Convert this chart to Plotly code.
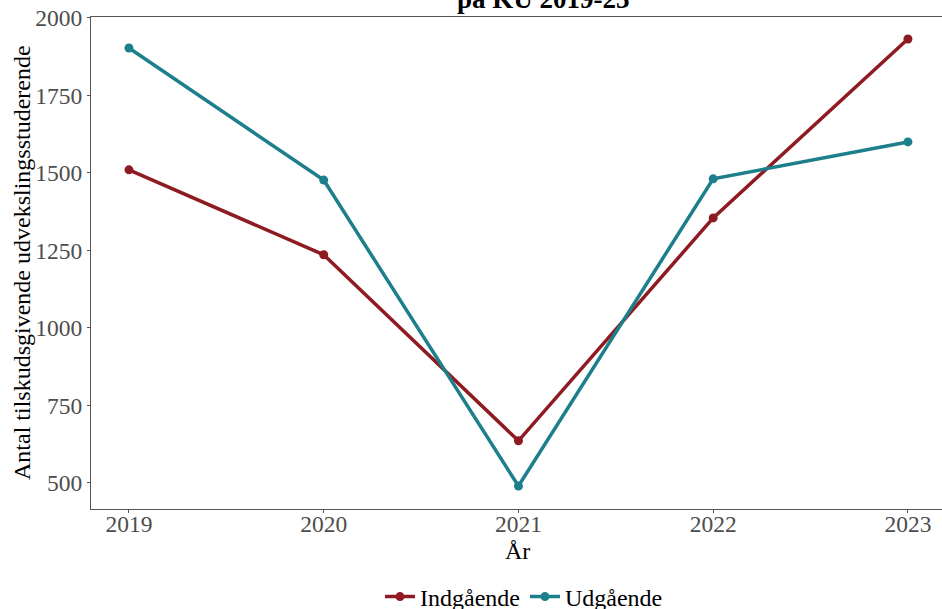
import plotly.graph_objects as go

years = [2019, 2020, 2021, 2022, 2023]
indgaaende = [1510, 1236, 636, 1355, 1932]
udgaaende = [1903, 1477, 490, 1481, 1600]
y_ticks = [500, 750, 1000, 1250, 1500, 1750, 2000]

red = "#8e1b21"
teal = "#1d7f8c"
font = "Liberation Serif"

FW, FH = 942, 609
L, T, R, B = 91, 17, 942, 509
W = R - L
H = B - T

fig = go.Figure()
fig.add_trace(go.Scatter(x=years, y=indgaaende, mode="lines+markers", name="Indgående",
                         line=dict(color=red, width=3.5), marker=dict(color=red, size=9)))
fig.add_trace(go.Scatter(x=years, y=udgaaende, mode="lines+markers", name="Udgående",
                         line=dict(color=teal, width=3.5), marker=dict(color=teal, size=9)))

fig.update_layout(
    width=FW, height=FH,
    margin=dict(l=L, r=FW - R, t=T, b=FH - B),
    paper_bgcolor="white", plot_bgcolor="white",
    font=dict(family=font, color="black"),
    showlegend=True,
    legend=dict(orientation="h", xref="container", yref="container",
                x=524 / FW, xanchor="center", y=1 - 597 / FH, yanchor="middle",
                font=dict(family=font, size=24, color="black"), itemwidth=30),
    annotations=[
        dict(text="<b>på KU 2019-23</b>", xref="paper", yref="paper",
             x=(543 - L) / W, xanchor="center", y=1 + (T + 1) / H, yanchor="middle",
             showarrow=False, font=dict(family=font, size=27, color="black")),
        dict(text="År", xref="paper", yref="paper",
             x=(517 - L) / W, xanchor="center", y=-(551 - B) / H, yanchor="middle",
             showarrow=False, font=dict(family=font, size=24, color="black")),
        dict(text="Antal tilskudsgivende udvekslingsstuderende", xref="paper", yref="paper",
             x=-(L - 22) / W, xanchor="center", y=0.5, yanchor="middle", textangle=-90,
             showarrow=False, font=dict(family=font, size=24, color="black")),
    ],
)
fig.update_xaxes(
    range=[2018.805, 2023.175], tickvals=years, ticktext=[str(y) for y in years],
    automargin=False, ticklabelstandoff=-9,
    showgrid=False, zeroline=False, showline=True, linecolor="#555555", linewidth=1.3,
    mirror=True, ticks="outside", ticklen=3, tickcolor="#555555",
    tickfont=dict(family=font, size=23.5, color="#4d4d4d"),
)
fig.update_yaxes(
    range=[416, 2003], tickvals=y_ticks, automargin=False,
    showgrid=False, zeroline=False, showline=True, linecolor="#555555", linewidth=1.3,
    ticks="outside", ticklen=3, tickcolor="#555555",
    tickfont=dict(family=font, size=23.5, color="#4d4d4d"),
)

fig.write_html("out.html", config={"displayModeBar": False},
               post_script="document.body.style.margin='0';document.body.style.overflow='hidden';")
